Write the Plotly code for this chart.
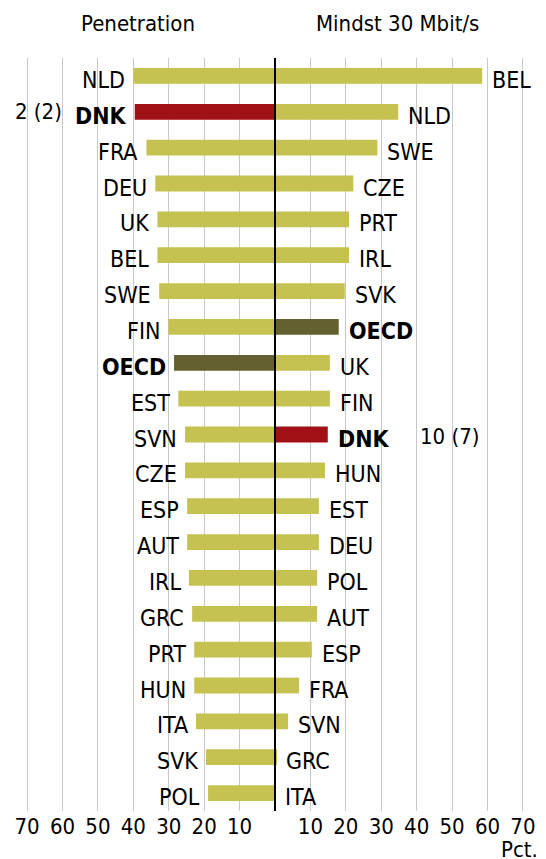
import plotly.graph_objects as go

# Penetration (venstre side), pct.
pen_lande = ["NLD", "DNK", "FRA", "DEU", "UK", "BEL", "SWE", "FIN", "OECD", "EST", "SVN",
             "CZE", "ESP", "AUT", "IRL", "GRC", "PRT", "HUN", "ITA", "SVK", "POL"]
pen_vaerdi = [40.0, 39.6, 36.3, 33.8, 33.2, 33.2, 32.7, 30.1, 28.5, 27.3, 25.4,
              25.4, 24.8, 24.8, 24.3, 23.4, 22.8, 22.8, 22.3, 19.5, 18.9]

# Mindst 30 Mbit/s (hoejre side), pct.
hast_lande = ["BEL", "NLD", "SWE", "CZE", "PRT", "IRL", "SVK", "OECD", "UK", "FIN", "DNK",
              "HUN", "EST", "DEU", "POL", "AUT", "ESP", "FRA", "SVN", "GRC", "ITA"]
hast_vaerdi = [58.5, 34.8, 28.9, 22.1, 20.9, 20.9, 19.7, 18.0, 15.5, 15.5, 14.9,
               14.1, 12.4, 12.4, 11.9, 11.9, 10.4, 6.8, 3.7, 0.3, 0.0]

tick_vals = [-70, -60, -50, -40, -30, -20, -10, 10, 20, 30, 40, 50, 60, 70]
tick_text = ["70", "60", "50", "40", "30", "20", "10", "10", "20", "30", "40", "50", "60", "70"]

# placering (2 (2) ved DNK venstre, 10 (7) ved DNK hoejre)
rang_pen = "2 (2)"
rang_hast = "10 (7)"

FONT = "DejaVu Sans Condensed, DejaVu Sans, sans-serif"
GUL = "#c5c251"
ROED = "#a01015"
OLIVEN = "#646030"


def farve(land):
    if land == "DNK":
        return ROED
    if land == "OECD":
        return OLIVEN
    return GUL


def tekst(land):
    if land in ("DNK", "OECD"):
        return "<b>" + land + "</b>"
    return land


rows = list(range(len(pen_lande)))

fig = go.Figure()
fig.add_trace(go.Bar(orientation="h", y=rows, x=[-v for v in pen_vaerdi], width=0.44,
                     marker=dict(color=[farve(l) for l in pen_lande], line_width=0),
                     hoverinfo="skip"))
fig.add_trace(go.Bar(orientation="h", y=rows, x=hast_vaerdi, width=0.44,
                     marker=dict(color=[farve(l) for l in hast_lande], line_width=0),
                     hoverinfo="skip"))

lbl = dict(family=FONT, size=23, color="black")
annots = []
for i in rows:
    annots.append(dict(x=-pen_vaerdi[i], y=i, text=tekst(pen_lande[i]), showarrow=False,
                       xanchor="right", yanchor="middle", xshift=-6, yshift=-4, font=lbl))
    annots.append(dict(x=hast_vaerdi[i], y=i, text=tekst(hast_lande[i]), showarrow=False,
                       xanchor="left", yanchor="middle", xshift=8, yshift=-4, font=lbl))

annots.append(dict(x=-66.8, y=1, text=rang_pen, showarrow=False,
                   xanchor="center", yanchor="middle", yshift=0))
annots.append(dict(x=49.5, y=10, text=rang_hast, showarrow=False,
                   xanchor="center", yanchor="middle", yshift=-2))
annots.append(dict(x=-38.6, xref="x", y=1, yref="paper", yshift=35, text="Penetration",
                   xanchor="center", yanchor="middle", showarrow=False))
annots.append(dict(x=34.5, xref="x", y=1, yref="paper", yshift=35, text="Mindst 30 Mbit/s",
                   xanchor="center", yanchor="middle", showarrow=False))
annots.append(dict(x=1, xref="paper", xanchor="right", xshift=10, y=0, yref="paper",
                   yanchor="middle", yshift=-38, text="Pct.", showarrow=False))

# siden har 8px body-margin, derfor er venstre/top margin trukket 8 fra
fig.update_layout(
    width=546, height=859,
    margin=dict(l=7, r=24, t=50, b=56),
    paper_bgcolor="white", plot_bgcolor="white",
    barmode="overlay", showlegend=False,
    font=dict(family=FONT, size=22, color="black"),
    annotations=annots,
    shapes=[dict(type="line", xref="x", yref="paper", x0=0, x1=0, y0=0, y1=1,
                 line=dict(color="black", width=2), layer="above")],
)
fig.update_xaxes(range=[-72, 72], tickvals=tick_vals, ticktext=tick_text,
                 showgrid=True, gridcolor="#c8c8c8", gridwidth=1,
                 zeroline=False, showline=False, ticks="",
                 tickfont=dict(family=FONT, size=22, color="black"))
fig.update_yaxes(range=[20.5, -0.5], showticklabels=False, showgrid=False,
                 zeroline=False, showline=False)

fig.write_html("out.html")
